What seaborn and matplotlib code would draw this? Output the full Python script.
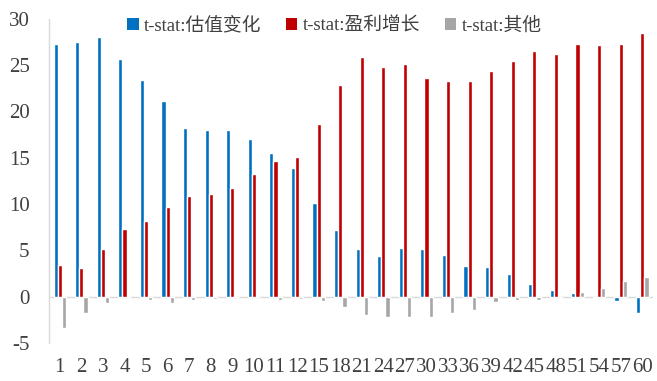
import matplotlib
matplotlib.use("Agg")
import matplotlib.pyplot as plt
import seaborn as sns
import pandas as pd
from matplotlib.patches import Patch

categories = ["1", "2", "3", "4", "5", "6", "7", "8", "9", "10", "11", "12", "15", "18",
              "21", "24", "27", "30", "33", "36", "39", "42", "45", "48", "51", "54", "57", "60"]
valuation = [27.3, 27.5, 28.0, 25.7, 23.4, 21.1, 18.2, 18.0, 17.95, 17.0, 15.5, 13.9, 10.1, 7.2,
             5.1, 4.4, 5.2, 5.1, 4.5, 3.3, 3.2, 2.5, 1.4, 0.7, 0.4, -0.15, -0.5, -1.8]
earnings = [3.4, 3.05, 5.1, 7.3, 8.2, 9.7, 10.9, 11.1, 11.7, 13.2, 14.6, 15.1, 18.6, 22.8,
            25.9, 24.8, 25.1, 23.6, 23.3, 23.3, 24.4, 25.4, 26.5, 26.2, 27.3, 27.2, 27.3, 28.4]
other = [-3.4, -1.8, -0.7, 0.0, -0.4, -0.7, -0.4, -0.3, 0.0, 0.0, -0.4, -0.2, -0.5, -1.1,
         -2.0, -2.2, -2.2, -2.2, -1.8, -1.4, -0.6, -0.4, -0.4, -0.1, 0.5, 0.9, 1.7, 2.1]
series_names = ["t-stat:估值变化", "t-stat:盈利增长", "t-stat:其他"]
colors = ["#0070C0", "#C00000", "#A6A6A6"]
yticks = [-5, 0, 5, 10, 15, 20, 25, 30]

rows = []
for name, vals in zip(series_names, [valuation, earnings, other]):
    for c, v in zip(categories, vals):
        rows.append({"cat": c, "series": name, "value": v})
df = pd.DataFrame(rows)

sns.set_theme(style="white")
plt.rcParams["font.family"] = ["Liberation Serif", "Noto Sans CJK SC"]

fig = plt.figure(figsize=(6.57, 3.81), dpi=100)
ax = fig.add_axes([0.0746, 0.0997, 0.9194, 0.8513])
sns.barplot(data=df, x="cat", y="value", hue="series", order=categories,
            hue_order=series_names, palette=colors, width=0.58, gap=0,
            saturation=1, errorbar=None, ax=ax, legend=False)

ax.set_ylim(-5, 30)
ax.set_xlim(-0.5, len(categories) - 0.5)
ax.set_yticks(yticks)
ax.set_yticklabels([str(t) for t in yticks], fontsize=15, color="#404040")
ax.set_xticks(range(len(categories)))
ax.set_xticklabels(categories, fontsize=15, color="#404040")
ax.tick_params(axis="x", length=0, pad=11)
ax.tick_params(axis="y", length=0, pad=14)
ax.set_xlabel("")
ax.set_ylabel("")
for s in ["top", "right", "bottom"]:
    ax.spines[s].set_visible(False)
ax.spines["left"].set_color("#D9D9D9")
ax.spines["left"].set_linewidth(1)
ax.axhline(0, color="#D9D9D9", linewidth=1, zorder=0)
ax.grid(False)

handles = [Patch(facecolor=c, edgecolor="none") for c in colors]
fig.legend(handles, series_names, loc="center left", bbox_to_anchor=(0.168, 0.932),
           ncol=3, frameon=False, fontsize=13.5, handlelength=0.6, handleheight=0.6,
           handletextpad=0.3, columnspacing=1.3, labelcolor="#404040")

fig.savefig("out.png", dpi=100)
